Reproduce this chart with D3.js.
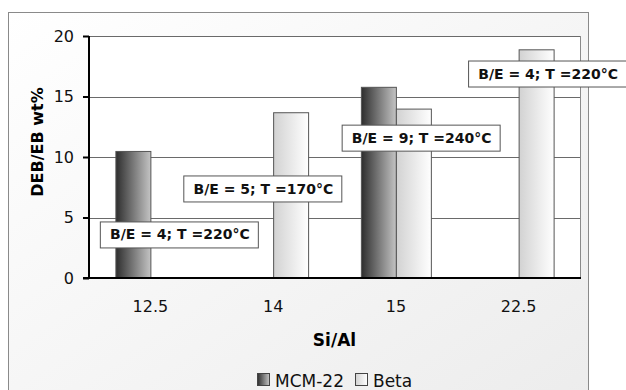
<!DOCTYPE html>
<html>
<head>
<meta charset="utf-8">
<script src="https://cdn.jsdelivr.net/npm/d3@7"></script>
<style>
  body { margin: 0; background: #fff; }
  svg { display: block; font-family: "DejaVu Sans", Verdana, sans-serif; }
</style>
</head>
<body>
<svg id="chart" width="626" height="390"></svg>
<script>
// ── Data ───────────────────────────────────────────────────────────────────
const CATEGORIES = ["12.5", "14", "15", "22.5"];
const SERIES = ["MCM-22", "Beta"];
const MCM22_VALUES = [10.5, null, 15.8, null];
const BETA_VALUES  = [null, 13.7, 14.0, 18.9];
const Y_TICKS = [0, 5, 10, 15, 20];

// annotation boxes: text, anchor category and value (centre of box)
const NOTE_TEXTS = ["B/E = 4; T =220°C", "B/E = 5; T =170°C", "B/E = 9; T =240°C", "B/E = 4; T =220°C"];
const NOTE_CATS  = ["12.5", "14", "15", "22.5"];
const NOTE_VALS  = [3.6, 7.4, 11.6, 16.9];
const NOTE_SHIFT = [0.24, -0.08, 0.21, 0.24];   // fraction of a category step

// ── Layout ─────────────────────────────────────────────────────────────────
const svg = d3.select("#chart");
const plot = { left: 89, top: 36, right: 580, bottom: 278 };

const defs = svg.append("defs");
const bgGrad = defs.append("linearGradient").attr("id", "bg")
    .attr("x1", "0").attr("y1", "0").attr("x2", "1").attr("y2", "1");
bgGrad.append("stop").attr("offset", "0").attr("stop-color", "#ffffff");
bgGrad.append("stop").attr("offset", "1").attr("stop-color", "#ececec");

const mcmGrad = defs.append("linearGradient").attr("id", "g-mcm");
mcmGrad.append("stop").attr("offset", "0").attr("stop-color", "#2e2e2e");
mcmGrad.append("stop").attr("offset", "1").attr("stop-color", "#c4c4c4");

const betaGrad = defs.append("linearGradient").attr("id", "g-beta");
betaGrad.append("stop").attr("offset", "0").attr("stop-color", "#d2d2d2");
betaGrad.append("stop").attr("offset", "1").attr("stop-color", "#ffffff");

const FILLS = { "MCM-22": "url(#g-mcm)", "Beta": "url(#g-beta)" };

// chart frame
svg.append("rect")
    .attr("x", 8.5).attr("y", 12.5).attr("width", 580).attr("height", 400)
    .attr("fill", "url(#bg)").attr("stroke", "#8a8a8a").attr("stroke-width", 1);

// plot area
svg.append("rect")
    .attr("x", plot.left).attr("y", plot.top + 0.5)
    .attr("width", plot.right - plot.left + 0.5).attr("height", plot.bottom - plot.top)
    .attr("fill", "#fff").attr("stroke", "#8a8a8a").attr("stroke-width", 1);

// ── Scales ─────────────────────────────────────────────────────────────────
const x = d3.scaleBand().domain(CATEGORIES).range([plot.left, plot.right])
    .paddingInner(0.43).paddingOuter(0.215);
const xs = d3.scaleBand().domain(SERIES).range([0, x.bandwidth()]);
const y = d3.scaleLinear().domain([0, 20]).range([plot.bottom, plot.top]);
const step = x.step();
const centre = c => x(c) + x.bandwidth() / 2;

// gridlines
svg.append("g")
    .selectAll("line").data(Y_TICKS.filter(d => d > 0)).join("line")
    .attr("x1", plot.left).attr("x2", plot.right)
    .attr("y1", d => Math.round(y(d)) + 0.5).attr("y2", d => Math.round(y(d)) + 0.5)
    .attr("stroke", "#6a6a6a").attr("stroke-width", 1);

// bars
const rows = [];
CATEGORIES.forEach((c, i) => {
    if (MCM22_VALUES[i] != null) rows.push({ cat: c, series: "MCM-22", value: MCM22_VALUES[i] });
    if (BETA_VALUES[i] != null) rows.push({ cat: c, series: "Beta", value: BETA_VALUES[i] });
});

svg.append("g")
    .selectAll("rect").data(rows).join("rect")
    .attr("x", d => x(d.cat) + xs(d.series) + 0.5)
    .attr("y", d => y(d.value) + 0.5)
    .attr("width", xs.bandwidth())
    .attr("height", d => y(0) - y(d.value))
    .attr("fill", d => FILLS[d.series])
    .attr("stroke", "#555").attr("stroke-width", 1);

// axes
const yAxis = svg.append("g")
    .attr("transform", `translate(${plot.left},0)`)
    .call(d3.axisLeft(y).tickValues(Y_TICKS).tickSize(6).tickPadding(9));
yAxis.select(".domain").attr("stroke", "#000").attr("stroke-width", 2)
    .attr("d", `M0,${plot.top}V${plot.bottom}`);
yAxis.selectAll(".tick line").attr("stroke", "#000").attr("stroke-width", 2);
yAxis.selectAll(".tick text").attr("font-size", 16).attr("fill", "#111")
    .attr("font-family", "DejaVu Sans, Verdana, sans-serif");

const xAxis = svg.append("g")
    .attr("transform", `translate(0,${plot.bottom})`)
    .call(d3.axisBottom(x).tickSize(0).tickPadding(23));
xAxis.select(".domain").attr("stroke", "#000").attr("stroke-width", 2)
    .attr("d", `M${plot.left - 6},0H${plot.right + 1}`);
xAxis.selectAll(".tick text").attr("font-size", 16).attr("fill", "#111")
    .attr("font-family", "DejaVu Sans, Verdana, sans-serif");

// axis titles
svg.append("text")
    .attr("x", (plot.left + plot.right) / 2).attr("y", 346)
    .attr("text-anchor", "middle").attr("font-size", 17).attr("font-weight", "bold")
    .text("Si/Al");

svg.append("text")
    .attr("transform", "translate(43,142) rotate(-90)")
    .attr("text-anchor", "middle").attr("font-size", 16).attr("font-weight", "bold")
    .text("DEB/EB wt%");

// annotation boxes
const notes = NOTE_TEXTS.map((t, i) => ({ text: t, cat: NOTE_CATS[i], value: NOTE_VALS[i], shift: NOTE_SHIFT[i] }));
const noteG = svg.append("g").selectAll("g").data(notes).join("g")
    .attr("transform", d => `translate(${centre(d.cat) + d.shift * step},${y(d.value)})`);
noteG.append("rect")
    .attr("x", -79.5).attr("y", -12.5).attr("width", 158).attr("height", 26)
    .attr("fill", "#fff").attr("stroke", "#555").attr("stroke-width", 1);
noteG.append("text")
    .attr("text-anchor", "middle").attr("dy", "0.36em")
    .attr("font-size", 14).attr("font-weight", "bold").attr("fill", "#111")
    .text(d => d.text);

// legend
const legend = svg.append("g").attr("transform", "translate(257,373)");
const legendX = [0, 98];
SERIES.forEach((s, i) => {
    const g = legend.append("g").attr("transform", `translate(${legendX[i]},0)`);
    g.append("rect").attr("x", 0.5).attr("y", 0.5).attr("width", 12).attr("height", 12)
        .attr("fill", FILLS[s]).attr("stroke", "#444");
    g.append("text").attr("x", 18).attr("y", 13.5)
        .attr("font-size", 17).attr("fill", "#111").text(s);
});
</script>
</body>
</html>
